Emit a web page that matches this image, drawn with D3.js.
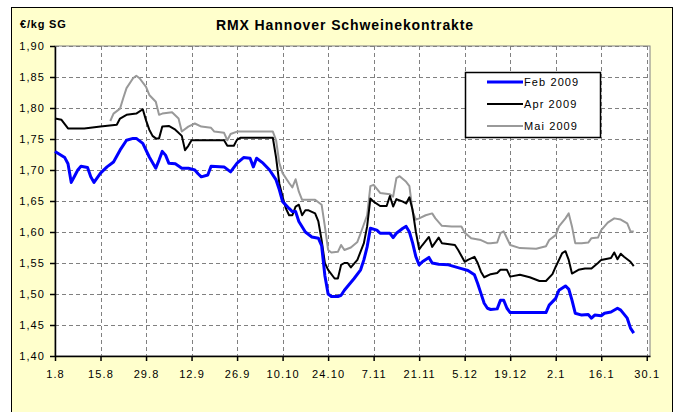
<!DOCTYPE html>
<html>
<head>
<meta charset="utf-8">
<script src="https://cdn.jsdelivr.net/npm/d3@7"></script>
<style>
  body { margin: 0; background: #fff; }
  svg { display: block; }
</style>
</head>
<body>
<script>
// Prices (EUR/kg SG), one pair per date
const feb2009 = [
  ["2008-08-01", 1.730], ["2008-08-04", 1.720], ["2008-08-05", 1.710], ["2008-08-06", 1.680],
  ["2008-08-07", 1.690], ["2008-08-08", 1.700], ["2008-08-09", 1.706], ["2008-08-11", 1.704],
  ["2008-08-12", 1.689], ["2008-08-13", 1.680], ["2008-08-15", 1.695], ["2008-08-17", 1.705],
  ["2008-08-19", 1.713], ["2008-08-21", 1.732], ["2008-08-23", 1.748], ["2008-08-25", 1.751],
  ["2008-08-26", 1.751], ["2008-08-28", 1.743], ["2008-08-30", 1.721], ["2008-09-01", 1.703],
  ["2008-09-02", 1.716], ["2008-09-03", 1.730], ["2008-09-04", 1.724], ["2008-09-05", 1.711],
  ["2008-09-07", 1.710], ["2008-09-09", 1.703], ["2008-09-11", 1.703], ["2008-09-13", 1.700],
  ["2008-09-14", 1.694], ["2008-09-15", 1.689], ["2008-09-17", 1.692], ["2008-09-18", 1.706],
  ["2008-09-22", 1.705], ["2008-09-24", 1.697], ["2008-09-26", 1.711], ["2008-09-28", 1.720],
  ["2008-09-30", 1.719], ["2008-10-01", 1.705], ["2008-10-02", 1.719], ["2008-10-04", 1.711],
  ["2008-10-06", 1.700], ["2008-10-08", 1.684], ["2008-10-09", 1.668], ["2008-10-10", 1.649],
  ["2008-10-12", 1.638], ["2008-10-13", 1.633], ["2008-10-14", 1.633], ["2008-10-15", 1.617],
  ["2008-10-17", 1.600], ["2008-10-19", 1.592], ["2008-10-21", 1.590], ["2008-10-22", 1.578],
  ["2008-10-23", 1.530], ["2008-10-24", 1.500], ["2008-10-25", 1.496], ["2008-10-27", 1.496],
  ["2008-10-28", 1.498], ["2008-10-29", 1.506], ["2008-11-01", 1.525], ["2008-11-03", 1.539],
  ["2008-11-04", 1.555], ["2008-11-05", 1.576], ["2008-11-06", 1.606], ["2008-11-08", 1.603],
  ["2008-11-09", 1.598], ["2008-11-12", 1.598], ["2008-11-13", 1.591], ["2008-11-14", 1.598],
  ["2008-11-16", 1.606], ["2008-11-17", 1.609], ["2008-11-18", 1.600], ["2008-11-19", 1.582],
  ["2008-11-20", 1.560], ["2008-11-21", 1.547], ["2008-11-22", 1.552], ["2008-11-24", 1.559],
  ["2008-11-25", 1.550], ["2008-11-27", 1.548], ["2008-11-30", 1.547], ["2008-12-04", 1.541],
  ["2008-12-06", 1.538], ["2008-12-08", 1.531], ["2008-12-09", 1.517], ["2008-12-10", 1.501],
  ["2008-12-11", 1.485], ["2008-12-12", 1.477], ["2008-12-13", 1.475], ["2008-12-15", 1.476],
  ["2008-12-16", 1.490], ["2008-12-17", 1.490], ["2008-12-18", 1.477], ["2008-12-19", 1.470],
  ["2008-12-30", 1.470], ["2008-12-31", 1.482], ["2009-01-02", 1.493], ["2009-01-03", 1.506],
  ["2009-01-05", 1.513], ["2009-01-06", 1.508], ["2009-01-07", 1.490], ["2009-01-08", 1.469],
  ["2009-01-10", 1.466], ["2009-01-12", 1.467], ["2009-01-13", 1.461], ["2009-01-14", 1.466],
  ["2009-01-16", 1.465], ["2009-01-17", 1.469], ["2009-01-19", 1.471], ["2009-01-21", 1.477],
  ["2009-01-22", 1.474], ["2009-01-24", 1.461], ["2009-01-25", 1.445], ["2009-01-26", 1.437]
];

const apr2009 = [
  ["2008-08-01", 1.783], ["2008-08-03", 1.781], ["2008-08-05", 1.767], ["2008-08-10", 1.767],
  ["2008-08-15", 1.770], ["2008-08-20", 1.773], ["2008-08-21", 1.783], ["2008-08-23", 1.789],
  ["2008-08-26", 1.791], ["2008-08-28", 1.798], ["2008-08-29", 1.780], ["2008-08-30", 1.765],
  ["2008-08-31", 1.755], ["2008-09-01", 1.751], ["2008-09-02", 1.751], ["2008-09-03", 1.770],
  ["2008-09-05", 1.771], ["2008-09-07", 1.765], ["2008-09-09", 1.755], ["2008-09-10", 1.732],
  ["2008-09-11", 1.739], ["2008-09-12", 1.748], ["2008-09-22", 1.748], ["2008-09-23", 1.739],
  ["2008-09-25", 1.739], ["2008-09-26", 1.749], ["2008-09-27", 1.752], ["2008-10-07", 1.752],
  ["2008-10-08", 1.720], ["2008-10-09", 1.678], ["2008-10-10", 1.657], ["2008-10-11", 1.638],
  ["2008-10-12", 1.627], ["2008-10-13", 1.627], ["2008-10-14", 1.641], ["2008-10-15", 1.644],
  ["2008-10-16", 1.627], ["2008-10-17", 1.635], ["2008-10-18", 1.635], ["2008-10-20", 1.630],
  ["2008-10-21", 1.617], ["2008-10-22", 1.587], ["2008-10-23", 1.550], ["2008-10-24", 1.539],
  ["2008-10-26", 1.525], ["2008-10-27", 1.525], ["2008-10-28", 1.547], ["2008-10-29", 1.550],
  ["2008-10-30", 1.550], ["2008-10-31", 1.543], ["2008-11-02", 1.555], ["2008-11-04", 1.582],
  ["2008-11-05", 1.609], ["2008-11-06", 1.654], ["2008-11-07", 1.649], ["2008-11-09", 1.642],
  ["2008-11-11", 1.642], ["2008-11-12", 1.658], ["2008-11-13", 1.641], ["2008-11-14", 1.653],
  ["2008-11-16", 1.649], ["2008-11-17", 1.646], ["2008-11-18", 1.656], ["2008-11-19", 1.635],
  ["2008-11-20", 1.600], ["2008-11-21", 1.572], ["2008-11-22", 1.579], ["2008-11-24", 1.592],
  ["2008-11-25", 1.576], ["2008-11-27", 1.591], ["2008-11-28", 1.582], ["2008-12-02", 1.579],
  ["2008-12-03", 1.571], ["2008-12-05", 1.552], ["2008-12-06", 1.555], ["2008-12-08", 1.560],
  ["2008-12-09", 1.550], ["2008-12-10", 1.536], ["2008-12-11", 1.527], ["2008-12-13", 1.532],
  ["2008-12-15", 1.534], ["2008-12-16", 1.539], ["2008-12-18", 1.539], ["2008-12-19", 1.528],
  ["2008-12-22", 1.531], ["2008-12-25", 1.527], ["2008-12-28", 1.521], ["2008-12-30", 1.521],
  ["2009-01-01", 1.532], ["2009-01-02", 1.544], ["2009-01-04", 1.566], ["2009-01-05", 1.569],
  ["2009-01-06", 1.555], ["2009-01-07", 1.533], ["2009-01-09", 1.539], ["2009-01-11", 1.541],
  ["2009-01-13", 1.541], ["2009-01-15", 1.550], ["2009-01-16", 1.555], ["2009-01-19", 1.558],
  ["2009-01-20", 1.567], ["2009-01-21", 1.556], ["2009-01-22", 1.565], ["2009-01-23", 1.560],
  ["2009-01-25", 1.552], ["2009-01-26", 1.545]
];

const mai2009 = [
  ["2008-08-18", 1.779], ["2008-08-19", 1.791], ["2008-08-21", 1.799], ["2008-08-22", 1.816],
  ["2008-08-23", 1.832], ["2008-08-25", 1.848], ["2008-08-26", 1.852], ["2008-08-27", 1.848],
  ["2008-08-29", 1.834], ["2008-08-30", 1.821], ["2008-09-01", 1.810], ["2008-09-02", 1.789],
  ["2008-09-03", 1.791], ["2008-09-06", 1.793], ["2008-09-08", 1.783], ["2008-09-09", 1.762],
  ["2008-09-11", 1.770], ["2008-09-13", 1.775], ["2008-09-15", 1.770], ["2008-09-18", 1.768],
  ["2008-09-19", 1.762], ["2008-09-22", 1.760], ["2008-09-23", 1.748], ["2008-09-24", 1.758],
  ["2008-09-26", 1.762], ["2008-10-07", 1.762], ["2008-10-08", 1.748], ["2008-10-09", 1.711],
  ["2008-10-10", 1.695], ["2008-10-12", 1.679], ["2008-10-13", 1.672], ["2008-10-14", 1.685],
  ["2008-10-15", 1.665], ["2008-10-16", 1.652], ["2008-10-20", 1.652], ["2008-10-22", 1.644],
  ["2008-10-23", 1.609], ["2008-10-24", 1.571], ["2008-10-25", 1.567], ["2008-10-27", 1.568],
  ["2008-10-28", 1.579], ["2008-10-29", 1.571], ["2008-10-31", 1.575], ["2008-11-02", 1.584],
  ["2008-11-03", 1.598], ["2008-11-05", 1.627], ["2008-11-06", 1.674], ["2008-11-07", 1.676],
  ["2008-11-09", 1.663], ["2008-11-12", 1.661], ["2008-11-13", 1.657], ["2008-11-14", 1.687],
  ["2008-11-15", 1.690], ["2008-11-17", 1.681], ["2008-11-18", 1.674], ["2008-11-19", 1.633],
  ["2008-11-20", 1.620], ["2008-11-21", 1.622], ["2008-11-23", 1.627], ["2008-11-25", 1.630],
  ["2008-11-26", 1.622], ["2008-11-28", 1.610], ["2008-12-01", 1.609], ["2008-12-04", 1.609],
  ["2008-12-05", 1.599], ["2008-12-07", 1.590], ["2008-12-10", 1.587], ["2008-12-12", 1.582],
  ["2008-12-13", 1.582], ["2008-12-15", 1.583], ["2008-12-16", 1.598], ["2008-12-17", 1.601],
  ["2008-12-18", 1.590], ["2008-12-19", 1.579], ["2008-12-22", 1.574], ["2008-12-27", 1.573],
  ["2008-12-30", 1.577], ["2008-12-31", 1.587], ["2009-01-02", 1.595], ["2009-01-03", 1.609],
  ["2009-01-05", 1.622], ["2009-01-06", 1.630], ["2009-01-07", 1.609], ["2009-01-08", 1.582],
  ["2009-01-10", 1.582], ["2009-01-12", 1.583], ["2009-01-13", 1.590], ["2009-01-15", 1.591],
  ["2009-01-16", 1.603], ["2009-01-18", 1.615], ["2009-01-20", 1.622], ["2009-01-22", 1.620],
  ["2009-01-24", 1.614], ["2009-01-25", 1.601], ["2009-01-26", 1.601]
];

const seriesNames = ["Feb 2009", "Apr 2009", "Mai 2009"];
const yTicks = [1.40, 1.45, 1.50, 1.55, 1.60, 1.65, 1.70, 1.75, 1.80, 1.85, 1.90];
const xStart = "2008-08-01", xEnd = "2009-01-31", xStepDays = 14, xTickCount = 14;

const series = [
  { name: seriesNames[0], data: feb2009, color: "#0000ff", width: 3 },
  { name: seriesNames[1], data: apr2009, color: "#000000", width: 2 },
  { name: seriesNames[2], data: mai2009, color: "#999999", width: 2 }
];

const parse = d3.timeParse("%Y-%m-%d");
const font = "'Liberation Sans', Arial, sans-serif";

// Chart dimensions
const W = 677, H = 412;
const margin = { top: 46, right: 27, bottom: 56, left: 55 };
const width = W - margin.left - margin.right;
const height = H - margin.top - margin.bottom;

const svg = d3.select("body").append("svg")
  .attr("width", W)
  .attr("height", H);

// Yellow chart area with frame
svg.append("rect")
  .attr("x", 11.5).attr("y", 7.5)
  .attr("width", 661).attr("height", 412)
  .attr("fill", "#ffffcc")
  .attr("stroke", "#000").attr("stroke-width", 1);

svg.append("text")
  .attr("x", 345).attr("y", 30)
  .attr("text-anchor", "middle")
  .attr("font-family", font).attr("font-weight", "bold")
  .attr("font-size", 14).attr("letter-spacing", 0.9)
  .text("RMX Hannover Schweinekontrakte");

svg.append("text")
  .attr("x", 20).attr("y", 28)
  .attr("font-family", font).attr("font-weight", "bold")
  .attr("font-size", 11).attr("letter-spacing", 0.8)
  .text("€/kg SG");

const g = svg.append("g")
  .attr("transform", `translate(${margin.left},${margin.top})`);

// Scales
const x = d3.scaleTime()
  .domain([parse(xStart), parse(xEnd)])
  .range([0, width]);

const y = d3.scaleLinear()
  .domain([yTicks[0], yTicks[yTicks.length - 1]])
  .range([height, 0]);

// ticks every 14 days counted from the start date
const xTickDates = d3.range(0, xTickCount).map(i => d3.timeDay.offset(parse(xStart), i * xStepDays));

// Plot area
g.append("rect")
  .attr("x", 0).attr("y", 0)
  .attr("width", width).attr("height", height)
  .attr("fill", "#fff")
  .attr("stroke", "#808080").attr("stroke-width", 1);

// Grid lines
g.append("g")
  .selectAll("line")
  .data(yTicks.slice(1))
  .join("line")
  .attr("x1", 0).attr("x2", width)
  .attr("y1", d => Math.round(y(d)) + 0.5).attr("y2", d => Math.round(y(d)) + 0.5)
  .attr("stroke", "#808080").attr("stroke-dasharray", "4,3");

g.append("g")
  .selectAll("line")
  .data(xTickDates.slice(1))
  .join("line")
  .attr("x1", d => Math.round(x(d)) + 0.5).attr("x2", d => Math.round(x(d)) + 0.5)
  .attr("y1", 0).attr("y2", height)
  .attr("stroke", "#808080").attr("stroke-dasharray", "4,3");

// Axes
const yAxis = g.append("g")
  .call(d3.axisLeft(y)
    .tickValues(yTicks)
    .tickSize(5).tickSizeOuter(0).tickPadding(5)
    .tickFormat(d => d3.format(".2f")(d).replace(".", ",")));

const xAxis = g.append("g")
  .attr("transform", `translate(0,${height})`)
  .call(d3.axisBottom(x)
    .tickValues(xTickDates)
    .tickSize(5).tickSizeOuter(0).tickPadding(9)
    .tickFormat(d3.timeFormat("%-d.%-m")));

[xAxis, yAxis].forEach(a => {
  a.select(".domain").attr("stroke", "#000").attr("stroke-width", 1.5);
  a.selectAll(".tick line").attr("stroke", "#000").attr("stroke-width", 1.5);
  a.selectAll("text")
    .attr("font-family", font).attr("font-size", 11)
    .attr("letter-spacing", 1.1).attr("fill", "#000");
});

// Lines (Feb drawn last so it sits on top)
const line = d3.line()
  .x(d => x(parse(d[0])))
  .y(d => y(d[1]));

series.slice().reverse().forEach(s => {
  g.append("path")
    .datum(s.data)
    .attr("fill", "none")
    .attr("stroke", s.color)
    .attr("stroke-width", s.width)
    .attr("stroke-linejoin", "round")
    .attr("d", line);
});

// Legend
const legend = svg.append("g").attr("transform", "translate(465,72)");
legend.append("rect")
  .attr("x", 0.5).attr("y", 0.5)
  .attr("width", 135).attr("height", 65)
  .attr("fill", "#fff")
  .attr("stroke", "#000").attr("stroke-width", 1.5);

series.forEach((s, i) => {
  const ly = 10 + i * 22;
  legend.append("line")
    .attr("x1", 22).attr("x2", 58)
    .attr("y1", ly).attr("y2", ly)
    .attr("stroke", s.color).attr("stroke-width", s.width);
  legend.append("text")
    .attr("x", 59).attr("y", ly + 4)
    .attr("font-family", font).attr("font-size", 11)
    .attr("letter-spacing", 1.1)
    .text(s.name);
});
</script>
</body>
</html>
